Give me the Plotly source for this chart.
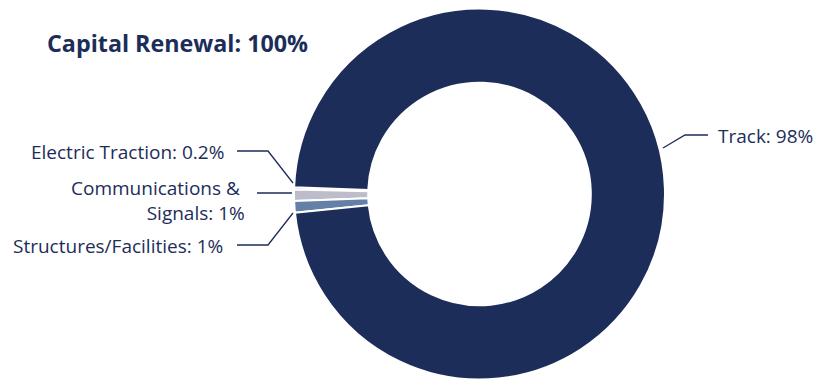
import plotly.graph_objects as go

# ---- data ----
categories = ["Electric Traction", "Communications & Signals", "Structures/Facilities", "Track"]
values = [0.2, 1, 1, 98]
pct_labels = ["0.2%", "1%", "1%", "98%"]
title_text = "Capital Renewal: 100%"

# ---- style ----
W, H = 814, 381
NAVY = "#1c2d5a"
colors = [NAVY, "#bcbccb", "#6580a6", NAVY]
FONT = "'Open Sans', Lato, sans-serif"

cx, cy, R = 479.5, 194, 185.5


def px(x, y):
    return x / W, 1 - y / H


fig = go.Figure()
fig.add_trace(go.Pie(
    labels=categories,
    values=values,
    hole=0.6,
    sort=False,
    direction="counterclockwise",
    rotation=-88.6,
    marker=dict(colors=colors, line=dict(color="white", width=2)),
    textinfo="none",
    hoverinfo="label+percent",
    showlegend=False,
    domain=dict(x=[(cx - R) / W, (cx + R) / W],
                y=[1 - (cy + R) / H, 1 - (cy - R) / H]),
))

annotations = []
shapes = []


def add_label(text, x, y, anchor):
    ax, ay = px(x, y)
    annotations.append(dict(text=text, x=ax, y=ay, xref="paper", yref="paper",
                            xanchor=anchor, yanchor="middle", showarrow=False,
                            align="right" if anchor == "right" else "left",
                            font=dict(family=FONT, size=19, color=NAVY)))


def add_line(points):
    path = ""
    for i, (x, y) in enumerate(points):
        X, Y = px(x, y)
        path += ("M" if i == 0 else "L") + f"{X},{Y} "
    shapes.append(dict(type="path", path=path, xref="paper", yref="paper",
                       line=dict(color=NAVY, width=1.3)))


# Electric Traction
add_label(f"{categories[0]}: {pct_labels[0]}", 226, 152, "right")
add_line([(237, 151), (268, 151), (293, 183)])
# Communications & Signals
add_label(f"Communications &amp;&nbsp;<br>Signals: {pct_labels[1]}", 247, 200, "right")
add_line([(257, 193), (292, 193)])
# Structures/Facilities
add_label(f"{categories[2]}: {pct_labels[2]}", 225, 246, "right")
add_line([(237, 245), (268, 245), (293, 213)])
# Track
add_label(f"{categories[3]}: {pct_labels[3]}", 716, 136, "left")
add_line([(663, 148), (685, 135), (708, 135)])

# Title
tx, ty = px(45, 43)
annotations.append(dict(text=f"<b>{title_text}</b>", x=tx, y=ty, xref="paper", yref="paper",
                        xanchor="left", yanchor="middle", showarrow=False,
                        font=dict(family=FONT, size=23.3, color=NAVY)))

fig.update_layout(
    width=W, height=H,
    margin=dict(l=0, r=0, t=0, b=0),
    paper_bgcolor="white", plot_bgcolor="white",
    annotations=annotations, shapes=shapes,
)

fig.write_html("out.html", config={"displayModeBar": False},
               post_script="document.body.style.margin='0';document.body.style.overflow='hidden';")
